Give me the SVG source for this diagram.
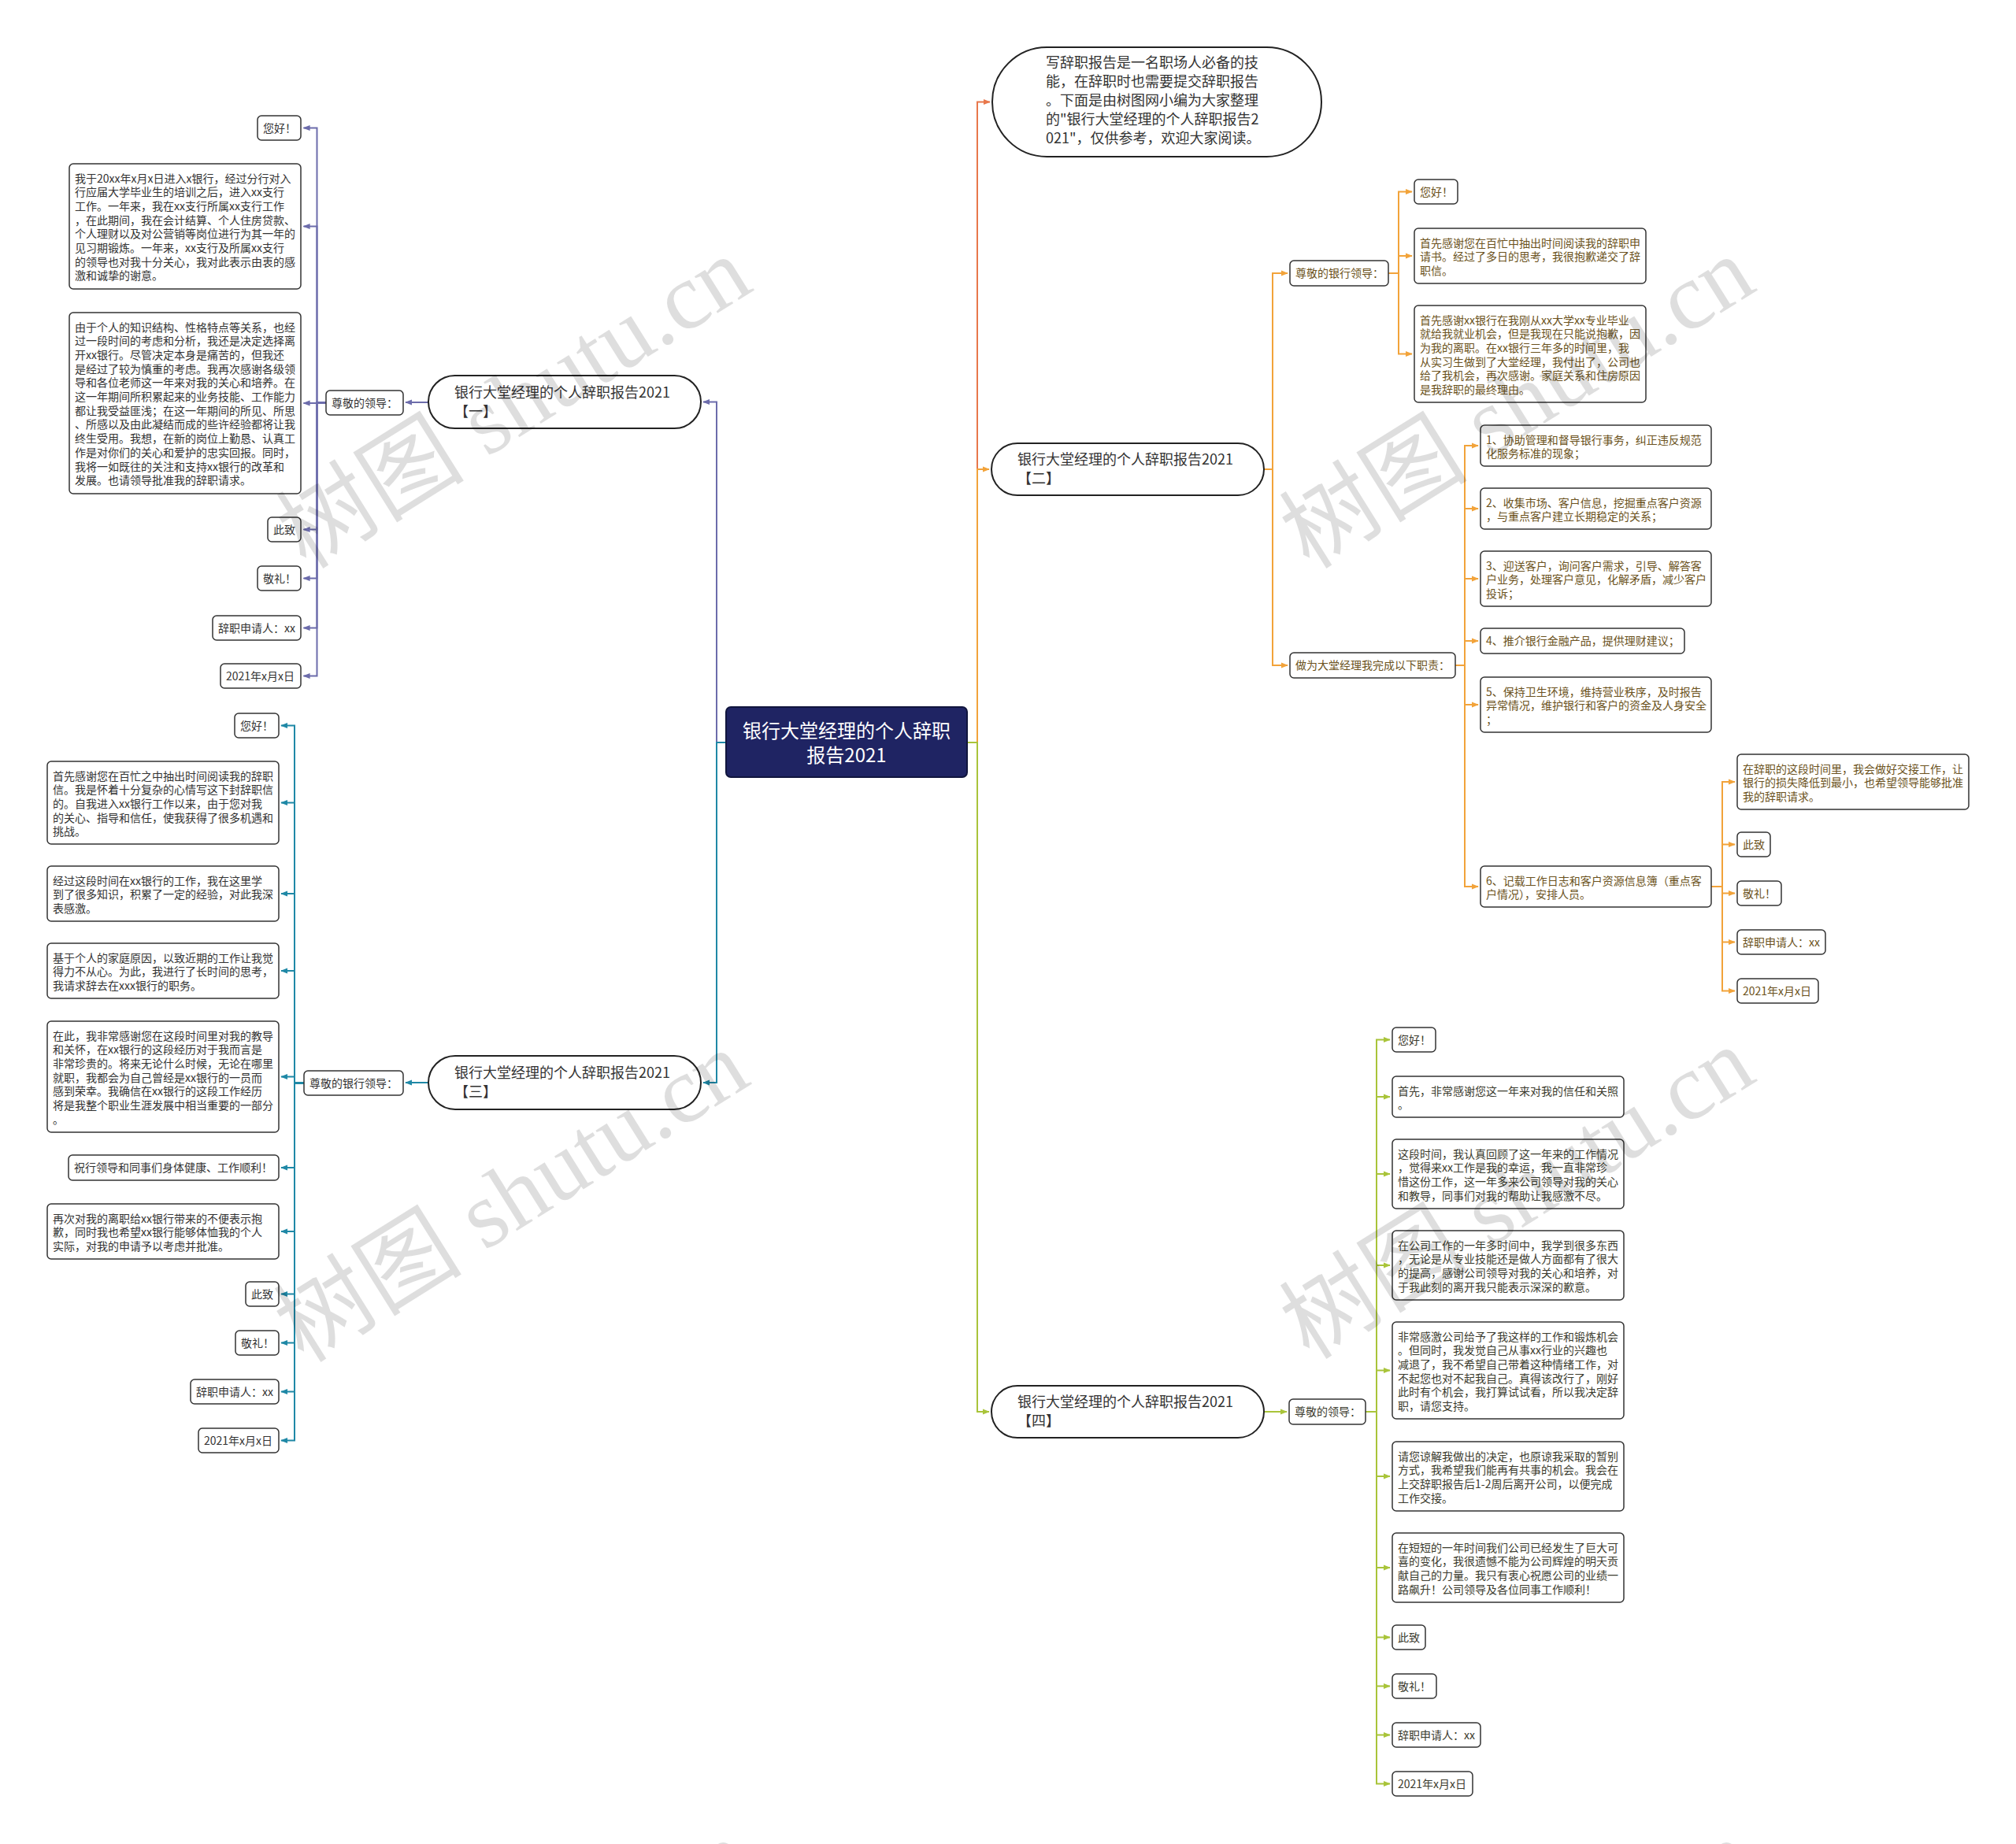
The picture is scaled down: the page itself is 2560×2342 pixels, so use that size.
<svg xmlns="http://www.w3.org/2000/svg" width="2560" height="2342" viewBox="0 0 2560 2342">
<style>
.lf{fill:#fff;stroke:#333;stroke-width:1.5}
.t{font-family:'Noto Sans CJK SC','Liberation Sans',sans-serif;font-size:14px}
.c1{fill:#333}.c2{fill:#6b5220}.c4{fill:#3b3b2e}
.br{fill:#fff;stroke:#222;stroke-width:2}
.bt{font-family:'Noto Sans CJK SC','Liberation Sans',sans-serif;font-size:18px;fill:#333}
.cn{fill:none;stroke-width:2}
.wm{font-family:'Liberation Serif','Noto Sans CJK SC',serif;font-size:120px;fill:#000;fill-opacity:.13}
</style>
<defs>
<marker id="mp" viewBox="0 0 10 10" refX="9" refY="5" markerWidth="9" markerHeight="9" orient="auto" markerUnits="userSpaceOnUse"><path d="M0,1 L10,5 L0,9 z" fill="#6c6cab"/></marker>
<marker id="mt" viewBox="0 0 10 10" refX="9" refY="5" markerWidth="9" markerHeight="9" orient="auto" markerUnits="userSpaceOnUse"><path d="M0,1 L10,5 L0,9 z" fill="#1f88a6"/></marker>
<marker id="mo" viewBox="0 0 10 10" refX="9" refY="5" markerWidth="9" markerHeight="9" orient="auto" markerUnits="userSpaceOnUse"><path d="M0,1 L10,5 L0,9 z" fill="#e8774b"/></marker>
<marker id="mg" viewBox="0 0 10 10" refX="9" refY="5" markerWidth="9" markerHeight="9" orient="auto" markerUnits="userSpaceOnUse"><path d="M0,1 L10,5 L0,9 z" fill="#f2a33a"/></marker>
<marker id="mG" viewBox="0 0 10 10" refX="9" refY="5" markerWidth="9" markerHeight="9" orient="auto" markerUnits="userSpaceOnUse"><path d="M0,1 L10,5 L0,9 z" fill="#a9c43a"/></marker>
</defs>
<rect width="2560" height="2342" fill="#fff"/>

<g id="connectors">
<g stroke="#6c6cab" class="cn" marker-end="url(#mp)">
<path d="M922,943 H910 V510.5 H893"/>
<path d="M544,511 H515"/>
<path d="M414,511.5 H402.5 V162.5 H385.5"/>
<path d="M414,511.5 H402.5 V287.5 H385.5"/>
<path d="M414,511.5 H402.5 V512 H385.5"/>
<path d="M414,511.5 H402.5 V672.5 H385.5"/>
<path d="M414,511.5 H402.5 V734.5 H385.5"/>
<path d="M414,511.5 H402.5 V797.5 H385.5"/>
<path d="M414,511.5 H402.5 V858.5 H385.5"/>
</g>
<g stroke="#1f88a6" class="cn" marker-end="url(#mt)">
<path d="M922,943 H910 V1375 H893"/>
<path d="M544,1375 H515"/>
<path d="M386,1375.5 H374 V921.5 H357"/>
<path d="M386,1375.5 H374 V1019.5 H357"/>
<path d="M386,1375.5 H374 V1135 H357"/>
<path d="M386,1375.5 H374 V1233 H357"/>
<path d="M386,1375.5 H374 V1367.5 H357"/>
<path d="M386,1375.5 H374 V1483 H357"/>
<path d="M386,1375.5 H374 V1564 H357"/>
<path d="M386,1375.5 H374 V1643.5 H357"/>
<path d="M386,1375.5 H374 V1705.5 H357"/>
<path d="M386,1375.5 H374 V1767.5 H357"/>
<path d="M386,1375.5 H374 V1829.5 H357"/>
</g>
<path d="M1228,943 H1241 V129.5 H1257" stroke="#e8774b" class="cn" marker-end="url(#mo)"/>
<g stroke="#f2a33a" class="cn" marker-end="url(#mg)">
<path d="M1228,943 H1241 V596 H1256"/>
<path d="M1605,596 H1616 V347 H1635"/>
<path d="M1605,596 H1616 V845 H1635"/>
<path d="M1763,347 H1776 V243.5 H1793"/>
<path d="M1763,347 H1776 V325 H1793"/>
<path d="M1763,347 H1776 V449.5 H1793"/>
<path d="M1848,845 H1860 V566 H1877"/>
<path d="M1848,845 H1860 V646 H1877"/>
<path d="M1848,845 H1860 V735 H1877"/>
<path d="M1848,845 H1860 V814 H1877"/>
<path d="M1848,845 H1860 V895 H1877"/>
<path d="M1848,845 H1860 V1126 H1877"/>
<path d="M2173,1126 H2187 V993 H2203"/>
<path d="M2173,1126 H2187 V1072.5 H2203"/>
<path d="M2173,1126 H2187 V1134.5 H2203"/>
<path d="M2173,1126 H2187 V1196.5 H2203"/>
<path d="M2173,1126 H2187 V1258.5 H2203"/>
</g>
<g stroke="#a9c43a" class="cn" marker-end="url(#mG)">
<path d="M1228,943 H1241 V1793 H1256"/>
<path d="M1605,1793 H1634"/>
<path d="M1734,1793 H1748 V1320.5 H1765"/>
<path d="M1734,1793 H1748 V1393 H1765"/>
<path d="M1734,1793 H1748 V1491 H1765"/>
<path d="M1734,1793 H1748 V1607 H1765"/>
<path d="M1734,1793 H1748 V1740.5 H1765"/>
<path d="M1734,1793 H1748 V1875 H1765"/>
<path d="M1734,1793 H1748 V1991 H1765"/>
<path d="M1734,1793 H1748 V2079.5 H1765"/>
<path d="M1734,1793 H1748 V2141.5 H1765"/>
<path d="M1734,1793 H1748 V2203.5 H1765"/>
<path d="M1734,1793 H1748 V2265.5 H1765"/>
</g>
</g>

<g id="root">
<rect x="922" y="898" width="306" height="89" rx="6" fill="#1f2463" stroke="#10153d" stroke-width="2"/>
<text x="1075" y="936.5" text-anchor="middle" font-family="'Noto Sans CJK SC','Liberation Sans',sans-serif" font-size="24" fill="#fff">银行大堂经理的个人辞职</text>
<text x="1075" y="967.5" text-anchor="middle" font-family="'Noto Sans CJK SC','Liberation Sans',sans-serif" font-size="24" fill="#fff">报告2021</text>
</g>

<g id="b1">
<rect class="br" x="544" y="477" width="346" height="67" rx="33.5"/>
<text class="bt" x="577" y="504.5">银行大堂经理的个人辞职报告2021</text>
<text class="bt" x="577" y="528.5">【一】</text>
</g>
<g id="b1-s"><rect class="lf" x="414" y="496" width="98" height="31" rx="5"/><text class="t c1" x="421" y="516.5">尊敬的领导：</text></g>
<g id="b1-1"><rect class="lf" x="327" y="147" width="55" height="31" rx="5"/><text class="t c1" x="334" y="167.5">您好！</text></g>
<g id="b1-2"><rect class="lf" x="88" y="208" width="294" height="159" rx="5"/>
<text class="t c1" x="95" y="231.5"><tspan x="95" dy="0">我于20xx年x月x日进入x银行，经过分行对入</tspan><tspan x="95" dy="17.7">行应届大学毕业生的培训之后，进入xx支行</tspan><tspan x="95" dy="17.7">工作。一年来，我在xx支行所属xx支行工作</tspan><tspan x="95" dy="17.7">，在此期间，我在会计结算、个人住房贷款、</tspan><tspan x="95" dy="17.7">个人理财以及对公营销等岗位进行为其一年的</tspan><tspan x="95" dy="17.7">见习期锻炼。一年来，xx支行及所属xx支行</tspan><tspan x="95" dy="17.7">的领导也对我十分关心，我对此表示由衷的感</tspan><tspan x="95" dy="17.7">激和诚挚的谢意。</tspan></text></g>
<g id="b1-3"><rect class="lf" x="88" y="397" width="294" height="230" rx="5"/>
<text class="t c1" x="95" y="420.5"><tspan x="95" dy="0">由于个人的知识结构、性格特点等关系，也经</tspan><tspan x="95" dy="17.7">过一段时间的考虑和分析，我还是决定选择离</tspan><tspan x="95" dy="17.7">开xx银行。尽管决定本身是痛苦的，但我还</tspan><tspan x="95" dy="17.7">是经过了较为慎重的考虑。我再次感谢各级领</tspan><tspan x="95" dy="17.7">导和各位老师这一年来对我的关心和培养。在</tspan><tspan x="95" dy="17.7">这一年期间所积累起来的业务技能、工作能力</tspan><tspan x="95" dy="17.7">都让我受益匪浅；在这一年期间的所见、所思</tspan><tspan x="95" dy="17.7">、所感以及由此凝结而成的些许经验都将让我</tspan><tspan x="95" dy="17.7">终生受用。我想，在新的岗位上勤恳、认真工</tspan><tspan x="95" dy="17.7">作是对你们的关心和爱护的忠实回报。同时，</tspan><tspan x="95" dy="17.7">我将一如既往的关注和支持xx银行的改革和</tspan><tspan x="95" dy="17.7">发展。也请领导批准我的辞职请求。</tspan></text></g>
<g id="b1-4"><rect class="lf" x="340" y="657" width="42" height="31" rx="5"/><text class="t c1" x="347" y="677.5">此致</text></g>
<g id="b1-5"><rect class="lf" x="327" y="719" width="55" height="31" rx="5"/><text class="t c1" x="334" y="739.5">敬礼！</text></g>
<g id="b1-6"><rect class="lf" x="270" y="782" width="112" height="31" rx="5"/><text class="t c1" x="277" y="802.5">辞职申请人：xx</text></g>
<g id="b1-7"><rect class="lf" x="280" y="843" width="102" height="31" rx="5"/><text class="t c1" x="287" y="863.5">2021年x月x日</text></g>

<g id="b3">
<rect class="br" x="544" y="1341" width="346" height="68" rx="34"/>
<text class="bt" x="577" y="1369">银行大堂经理的个人辞职报告2021</text>
<text class="bt" x="577" y="1393">【三】</text>
</g>
<g id="b3-s"><rect class="lf" x="386" y="1360" width="126" height="31" rx="5"/><text class="t c1" x="393" y="1380.5">尊敬的银行领导：</text></g>
<g id="b3-1"><rect class="lf" x="298" y="906" width="56" height="31" rx="5"/><text class="t c1" x="305" y="926.5">您好！</text></g>
<g id="b3-2"><rect class="lf" x="60" y="967" width="294" height="105" rx="5"/>
<text class="t c1" x="67" y="990.5"><tspan x="67" dy="0">首先感谢您在百忙之中抽出时间阅读我的辞职</tspan><tspan x="67" dy="17.7">信。我是怀着十分复杂的心情写这下封辞职信</tspan><tspan x="67" dy="17.7">的。自我进入xx银行工作以来，由于您对我</tspan><tspan x="67" dy="17.7">的关心、指导和信任，使我获得了很多机遇和</tspan><tspan x="67" dy="17.7">挑战。</tspan></text></g>
<g id="b3-3"><rect class="lf" x="60" y="1100" width="294" height="70" rx="5"/>
<text class="t c1" x="67" y="1123.5"><tspan x="67" dy="0">经过这段时间在xx银行的工作，我在这里学</tspan><tspan x="67" dy="17.7">到了很多知识，积累了一定的经验，对此我深</tspan><tspan x="67" dy="17.7">表感激。</tspan></text></g>
<g id="b3-4"><rect class="lf" x="60" y="1198" width="294" height="70" rx="5"/>
<text class="t c1" x="67" y="1221.5"><tspan x="67" dy="0">基于个人的家庭原因，以致近期的工作让我觉</tspan><tspan x="67" dy="17.7">得力不从心。为此，我进行了长时间的思考，</tspan><tspan x="67" dy="17.7">我请求辞去在xxx银行的职务。</tspan></text></g>
<g id="b3-5"><rect class="lf" x="60" y="1297" width="294" height="141" rx="5"/>
<text class="t c1" x="67" y="1320.5"><tspan x="67" dy="0">在此，我非常感谢您在这段时间里对我的教导</tspan><tspan x="67" dy="17.7">和关怀，在xx银行的这段经历对于我而言是</tspan><tspan x="67" dy="17.7">非常珍贵的。将来无论什么时候，无论在哪里</tspan><tspan x="67" dy="17.7">就职，我都会为自己曾经是xx银行的一员而</tspan><tspan x="67" dy="17.7">感到荣幸。我确信在xx银行的这段工作经历</tspan><tspan x="67" dy="17.7">将是我整个职业生涯发展中相当重要的一部分</tspan><tspan x="67" dy="17.7">。</tspan></text></g>
<g id="b3-6"><rect class="lf" x="87" y="1467" width="267" height="32" rx="5"/><text class="t c1" x="94" y="1488">祝行领导和同事们身体健康、工作顺利！</text></g>
<g id="b3-7"><rect class="lf" x="60" y="1529" width="294" height="70" rx="5"/>
<text class="t c1" x="67" y="1552.5"><tspan x="67" dy="0">再次对我的离职给xx银行带来的不便表示抱</tspan><tspan x="67" dy="17.7">歉，同时我也希望xx银行能够体恤我的个人</tspan><tspan x="67" dy="17.7">实际，对我的申请予以考虑并批准。</tspan></text></g>
<g id="b3-8"><rect class="lf" x="312" y="1628" width="42" height="31" rx="5"/><text class="t c1" x="319" y="1648.5">此致</text></g>
<g id="b3-9"><rect class="lf" x="299" y="1690" width="55" height="31" rx="5"/><text class="t c1" x="306" y="1710.5">敬礼！</text></g>
<g id="b3-10"><rect class="lf" x="242" y="1752" width="112" height="31" rx="5"/><text class="t c1" x="249" y="1772.5">辞职申请人：xx</text></g>
<g id="b3-11"><rect class="lf" x="252" y="1814" width="102" height="31" rx="5"/><text class="t c1" x="259" y="1834.5">2021年x月x日</text></g>

<g id="intro">
<rect class="br" x="1260" y="60" width="418" height="139" rx="69.5"/>
<text class="bt" x="1328" y="86"><tspan x="1328" dy="0">写辞职报告是一名职场人必备的技</tspan><tspan x="1328" dy="24">能，在辞职时也需要提交辞职报告</tspan><tspan x="1328" dy="24">。下面是由树图网小编为大家整理</tspan><tspan x="1328" dy="24">的"银行大堂经理的个人辞职报告2</tspan><tspan x="1328" dy="24">021"，仅供参考，欢迎大家阅读。</tspan></text>
</g>

<g id="b2">
<rect class="br" x="1259" y="563" width="346" height="66" rx="33"/>
<text class="bt" x="1292" y="590">银行大堂经理的个人辞职报告2021</text>
<text class="bt" x="1292" y="614">【二】</text>
</g>
<g id="b2-a"><rect class="lf" x="1638" y="331" width="125" height="32" rx="5"/><text class="t c2" x="1645" y="352">尊敬的银行领导：</text></g>
<g id="b2-a1"><rect class="lf" x="1796" y="228" width="55" height="31" rx="5"/><text class="t c2" x="1803" y="248.5">您好！</text></g>
<g id="b2-a2"><rect class="lf" x="1796" y="290" width="294" height="70" rx="5"/>
<text class="t c2" x="1803" y="313.5"><tspan x="1803" dy="0">首先感谢您在百忙中抽出时间阅读我的辞职申</tspan><tspan x="1803" dy="17.7">请书。经过了多日的思考，我很抱歉递交了辞</tspan><tspan x="1803" dy="17.7">职信。</tspan></text></g>
<g id="b2-a3"><rect class="lf" x="1796" y="388" width="294" height="123" rx="5"/>
<text class="t c2" x="1803" y="411.5"><tspan x="1803" dy="0">首先感谢xx银行在我刚从xx大学xx专业毕业</tspan><tspan x="1803" dy="17.7">就给我就业机会，但是我现在只能说抱歉，因</tspan><tspan x="1803" dy="17.7">为我的离职。在xx银行三年多的时间里，我</tspan><tspan x="1803" dy="17.7">从实习生做到了大堂经理，我付出了，公司也</tspan><tspan x="1803" dy="17.7">给了我机会，再次感谢。家庭关系和住房原因</tspan><tspan x="1803" dy="17.7">是我辞职的最终理由。</tspan></text></g>
<g id="b2-b"><rect class="lf" x="1638" y="829" width="210" height="32" rx="5"/><text class="t c2" x="1645" y="850">做为大堂经理我完成以下职责：</text></g>
<g id="b2-b1"><rect class="lf" x="1880" y="540" width="293" height="52" rx="5"/>
<text class="t c2" x="1887" y="563.5"><tspan x="1887" dy="0">1、协助管理和督导银行事务，纠正违反规范</tspan><tspan x="1887" dy="17.7">化服务标准的现象；</tspan></text></g>
<g id="b2-b2"><rect class="lf" x="1880" y="620" width="293" height="52" rx="5"/>
<text class="t c2" x="1887" y="643.5"><tspan x="1887" dy="0">2、收集市场、客户信息，挖掘重点客户资源</tspan><tspan x="1887" dy="17.7">，与重点客户建立长期稳定的关系；</tspan></text></g>
<g id="b2-b3"><rect class="lf" x="1880" y="700" width="293" height="70" rx="5"/>
<text class="t c2" x="1887" y="723.5"><tspan x="1887" dy="0">3、迎送客户，询问客户需求，引导、解答客</tspan><tspan x="1887" dy="17.7">户业务，处理客户意见，化解矛盾，减少客户</tspan><tspan x="1887" dy="17.7">投诉；</tspan></text></g>
<g id="b2-b4"><rect class="lf" x="1880" y="798" width="259" height="32" rx="5"/><text class="t c2" x="1887" y="819">4、推介银行金融产品，提供理财建议；</text></g>
<g id="b2-b5"><rect class="lf" x="1880" y="860" width="293" height="70" rx="5"/>
<text class="t c2" x="1887" y="883.5"><tspan x="1887" dy="0">5、保持卫生环境，维持营业秩序，及时报告</tspan><tspan x="1887" dy="17.7">异常情况，维护银行和客户的资金及人身安全</tspan><tspan x="1887" dy="17.7">；</tspan></text></g>
<g id="b2-b6"><rect class="lf" x="1880" y="1100" width="293" height="52" rx="5"/>
<text class="t c2" x="1887" y="1123.5"><tspan x="1887" dy="0">6、记载工作日志和客户资源信息簿（重点客</tspan><tspan x="1887" dy="17.7">户情况），安排人员。</tspan></text></g>
<g id="b2-c1"><rect class="lf" x="2206" y="958" width="294" height="70" rx="5"/>
<text class="t c2" x="2213" y="981.5"><tspan x="2213" dy="0">在辞职的这段时间里，我会做好交接工作，让</tspan><tspan x="2213" dy="17.7">银行的损失降低到最小，也希望领导能够批准</tspan><tspan x="2213" dy="17.7">我的辞职请求。</tspan></text></g>
<g id="b2-c2"><rect class="lf" x="2206" y="1057" width="42" height="31" rx="5"/><text class="t c2" x="2213" y="1077.5">此致</text></g>
<g id="b2-c3"><rect class="lf" x="2206" y="1119" width="56" height="31" rx="5"/><text class="t c2" x="2213" y="1139.5">敬礼！</text></g>
<g id="b2-c4"><rect class="lf" x="2206" y="1181" width="112" height="31" rx="5"/><text class="t c2" x="2213" y="1201.5">辞职申请人：xx</text></g>
<g id="b2-c5"><rect class="lf" x="2206" y="1243" width="103" height="31" rx="5"/><text class="t c2" x="2213" y="1263.5">2021年x月x日</text></g>

<g id="b4">
<rect class="br" x="1259" y="1760" width="346" height="66" rx="33"/>
<text class="bt" x="1292" y="1787">银行大堂经理的个人辞职报告2021</text>
<text class="bt" x="1292" y="1811">【四】</text>
</g>
<g id="b4-s"><rect class="lf" x="1637" y="1777" width="97" height="32" rx="5"/><text class="t c4" x="1644" y="1798">尊敬的领导：</text></g>
<g id="b4-1"><rect class="lf" x="1768" y="1305" width="55" height="31" rx="5"/><text class="t c4" x="1775" y="1325.5">您好！</text></g>
<g id="b4-2"><rect class="lf" x="1768" y="1367" width="294" height="52" rx="5"/>
<text class="t c4" x="1775" y="1390.5"><tspan x="1775" dy="0">首先，非常感谢您这一年来对我的信任和关照</tspan><tspan x="1775" dy="17.7">。</tspan></text></g>
<g id="b4-3"><rect class="lf" x="1768" y="1447" width="294" height="88" rx="5"/>
<text class="t c4" x="1775" y="1470.5"><tspan x="1775" dy="0">这段时间，我认真回顾了这一年来的工作情况</tspan><tspan x="1775" dy="17.7">，觉得来xx工作是我的幸运，我一直非常珍</tspan><tspan x="1775" dy="17.7">惜这份工作，这一年多来公司领导对我的关心</tspan><tspan x="1775" dy="17.7">和教导，同事们对我的帮助让我感激不尽。</tspan></text></g>
<g id="b4-4"><rect class="lf" x="1768" y="1563" width="294" height="88" rx="5"/>
<text class="t c4" x="1775" y="1586.5"><tspan x="1775" dy="0">在公司工作的一年多时间中，我学到很多东西</tspan><tspan x="1775" dy="17.7">，无论是从专业技能还是做人方面都有了很大</tspan><tspan x="1775" dy="17.7">的提高，感谢公司领导对我的关心和培养，对</tspan><tspan x="1775" dy="17.7">于我此刻的离开我只能表示深深的歉意。</tspan></text></g>
<g id="b4-5"><rect class="lf" x="1768" y="1679" width="294" height="123" rx="5"/>
<text class="t c4" x="1775" y="1702.5"><tspan x="1775" dy="0">非常感激公司给予了我这样的工作和锻炼机会</tspan><tspan x="1775" dy="17.7">。但同时，我发觉自己从事xx行业的兴趣也</tspan><tspan x="1775" dy="17.7">减退了，我不希望自己带着这种情绪工作，对</tspan><tspan x="1775" dy="17.7">不起您也对不起我自己。真得该改行了，刚好</tspan><tspan x="1775" dy="17.7">此时有个机会，我打算试试看，所以我决定辞</tspan><tspan x="1775" dy="17.7">职，请您支持。</tspan></text></g>
<g id="b4-6"><rect class="lf" x="1768" y="1831" width="294" height="88" rx="5"/>
<text class="t c4" x="1775" y="1854.5"><tspan x="1775" dy="0">请您谅解我做出的决定，也原谅我采取的暂别</tspan><tspan x="1775" dy="17.7">方式，我希望我们能再有共事的机会。我会在</tspan><tspan x="1775" dy="17.7">上交辞职报告后1-2周后离开公司，以便完成</tspan><tspan x="1775" dy="17.7">工作交接。</tspan></text></g>
<g id="b4-7"><rect class="lf" x="1768" y="1947" width="294" height="88" rx="5"/>
<text class="t c4" x="1775" y="1970.5"><tspan x="1775" dy="0">在短短的一年时间我们公司已经发生了巨大可</tspan><tspan x="1775" dy="17.7">喜的变化，我很遗憾不能为公司辉煌的明天贡</tspan><tspan x="1775" dy="17.7">献自己的力量。我只有衷心祝愿公司的业绩一</tspan><tspan x="1775" dy="17.7">路飙升！公司领导及各位同事工作顺利！</tspan></text></g>
<g id="b4-8"><rect class="lf" x="1768" y="2064" width="42" height="31" rx="5"/><text class="t c4" x="1775" y="2084.5">此致</text></g>
<g id="b4-9"><rect class="lf" x="1768" y="2126" width="56" height="31" rx="5"/><text class="t c4" x="1775" y="2146.5">敬礼！</text></g>
<g id="b4-10"><rect class="lf" x="1768" y="2188" width="112" height="31" rx="5"/><text class="t c4" x="1775" y="2208.5">辞职申请人：xx</text></g>
<g id="b4-11"><rect class="lf" x="1768" y="2250" width="102" height="31" rx="5"/><text class="t c4" x="1775" y="2270.5">2021年x月x日</text></g>

<g id="watermarks">
<text class="wm" text-anchor="middle" transform="translate(653,512) rotate(-32)" dy="40">树图 shutu.cn</text>
<text class="wm" text-anchor="middle" transform="translate(1927,512) rotate(-32)" dy="40">树图 shutu.cn</text>
<text class="wm" text-anchor="middle" transform="translate(650,1520) rotate(-32)" dy="40">树图 shutu.cn</text>
<text class="wm" text-anchor="middle" transform="translate(1927,1516) rotate(-32)" dy="40">树图 shutu.cn</text>
<text class="wm" text-anchor="middle" transform="translate(653,2523) rotate(-32)" dy="40">树图 shutu.cn</text>
<text class="wm" text-anchor="middle" transform="translate(1927,2523) rotate(-32)" dy="40">树图 shutu.cn</text>
</g>
</svg>
